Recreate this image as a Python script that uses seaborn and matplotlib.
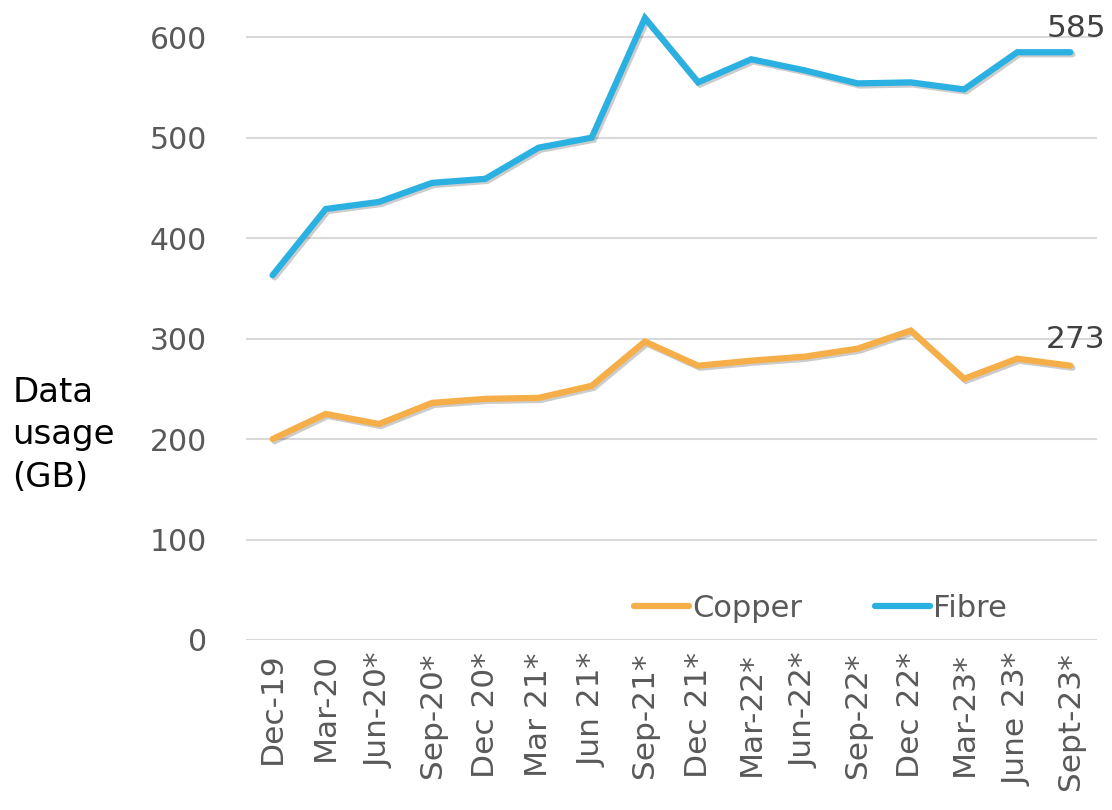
import matplotlib
matplotlib.use('Agg')
import numpy as np
import pandas as pd
import matplotlib.pyplot as plt
import matplotlib.patheffects as pe
import seaborn as sns

# data
quarters = ['Dec-19', 'Mar-20', 'Jun-20*', 'Sep-20*', 'Dec 20*', 'Mar 21*', 'Jun 21*', 'Sep-21*',
            'Dec 21*', 'Mar-22*', 'Jun-22*', 'Sep-22*', 'Dec 22*', 'Mar-23*', 'June 23*', 'Sept-23*']
copper = [200, 225, 215, 236, 240, 241, 253, 297, 273, 278, 282, 290, 308, 260, 280, 273]
fibre = [363, 429, 436, 455, 459, 490, 500, 619, 555, 578, 567, 554, 555, 548, 585, 585]
series_names = ['Copper', 'Fibre']
colors = {'Copper': '#F6AE48', 'Fibre': '#2AB1E1'}

df = pd.DataFrame({'quarter': quarters * 2,
                   'usage': copper + fibre,
                   'type': ['Copper'] * len(copper) + ['Fibre'] * len(fibre)})

sns.set_theme(style='white')
plt.rcParams['font.family'] = ['DejaVu Sans']

fig = plt.figure(figsize=(11.12, 8.10), dpi=100)
ax = fig.add_axes([0.2212, 0.2099, 0.7653, 0.7839])

sns.lineplot(data=df, x='quarter', y='usage', hue='type', hue_order=series_names,
             palette=colors, linewidth=4.5, sort=False, ax=ax)

# soft drop shadow like the original
for line in ax.lines:
    line.set_solid_capstyle('round')
    line.set_solid_joinstyle('miter')
    line.set_path_effects([pe.SimpleLineShadow(offset=(1.5, -1.5), alpha=0.2, shadow_color='black'),
                           pe.Normal()])

ax.set_xlim(-0.5, len(quarters) - 0.5)
ax.set_ylim(0, 632)
ax.set_yticks([0, 100, 200, 300, 400, 500, 600])
ax.yaxis.grid(True, color='#d9d9d9', linewidth=1.5)
ax.xaxis.grid(False)
for s in ax.spines.values():
    s.set_visible(False)
ax.set_xlabel('')
ax.set_ylabel('')
ax.tick_params(axis='y', labelsize=21.5, labelcolor='#595959', length=0, pad=28)
ax.tick_params(axis='x', labelsize=22.5, labelcolor='#595959', length=0, pad=9)
plt.setp(ax.get_xticklabels(), rotation=90)

# end labels
ax.annotate(str(fibre[-1]), xy=(len(quarters) - 1, fibre[-1]), xytext=(4, 17),
            textcoords='offset points', ha='center', va='center', fontsize=22.5, color='#404040')
ax.annotate(str(copper[-1]), xy=(len(quarters) - 1, copper[-1]), xytext=(4, 19),
            textcoords='offset points', ha='center', va='center', fontsize=22.5, color='#404040')

leg = ax.legend(loc='center', bbox_to_anchor=(0.675, 0.05), ncol=2, frameon=False,
                fontsize=22, handlelength=1.8, handletextpad=0.1, columnspacing=2.4)
for t in leg.get_texts():
    t.set_color('#595959')
for h in leg.get_lines():
    h.set_linewidth(4.5)
    h.set_path_effects([])

fig.text(0.011, 0.463, 'Data\nusage\n(GB)', fontsize=24.5, color='black', ha='left', va='center',
         linespacing=1.38)

fig.savefig('out.png', dpi=100)
